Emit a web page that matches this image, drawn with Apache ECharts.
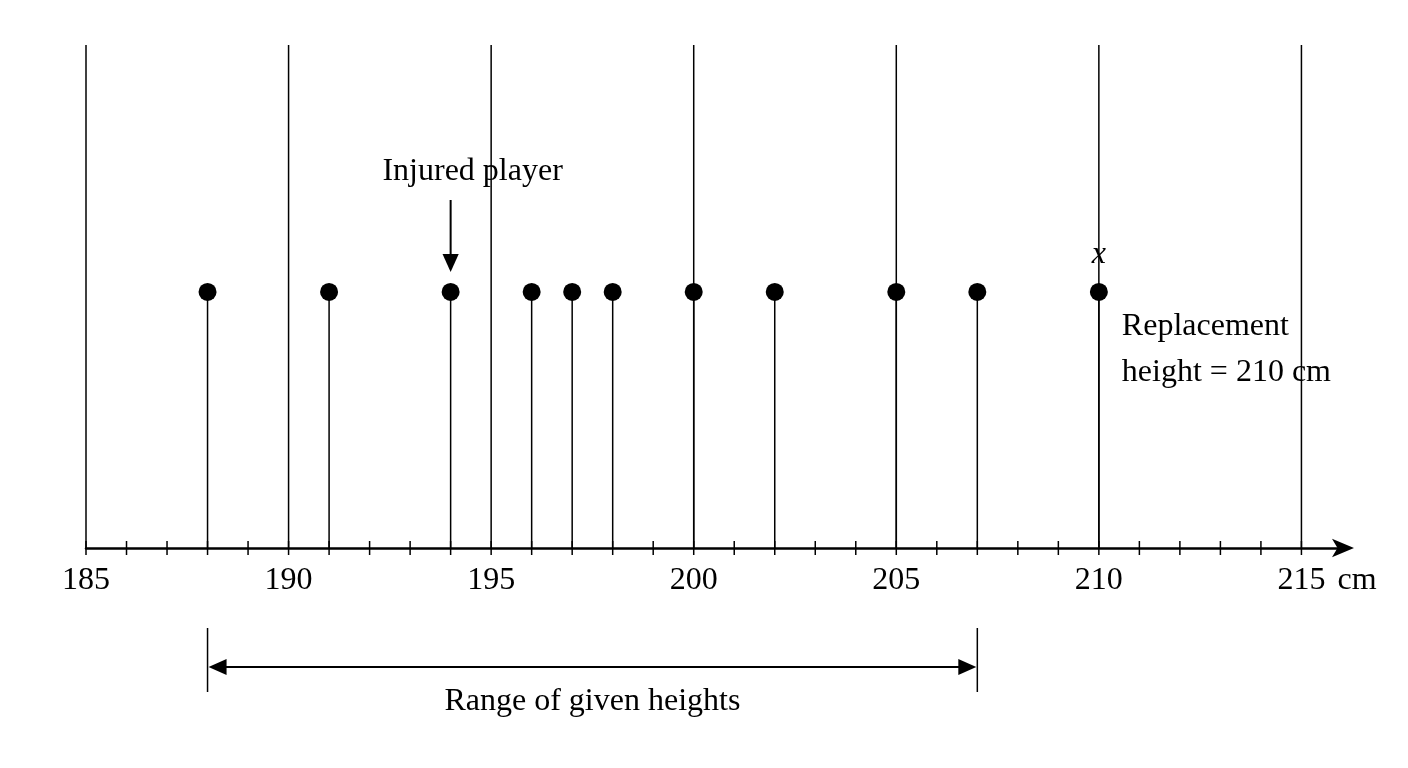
<!DOCTYPE html><html><head><meta charset="utf-8">
<script src="https://cdn.jsdelivr.net/npm/echarts@6/dist/echarts.min.js"></script>
<style>html,body{margin:0;background:#fff}#c{width:1408px;height:768px}</style></head><body><div id="c"></div>
<script>
const heights=[188,191,194,196,197,198,200,202,205,207,210];
const gridValues=[185,190,195,200,205,210,215];
const tickValues=[];for(let v=185;v<=215;v++)tickValues.push(v);
const labelValues=[185,190,195,200,205,210,215];
const dotLevel=0.509;
const injured=194, replacement=210, rangeMin=188, rangeMax=207;
const F='"Liberation Serif","DejaVu Serif",serif';
const chart=echarts.init(document.getElementById('c'));
const L={stroke:'#000',lineWidth:1.5};
function arrowHead(x,y,dx,dy,s){ // tip at x,y pointing dir
  const px=-dy,py=dx;
  return {type:'polygon',shape:{points:[[x,y],[x-dx*s+px*s*0.45,y-dy*s+py*s*0.45],[x-dx*s-px*s*0.45,y-dy*s-py*s*0.45]]},style:{fill:'#000'}};
}
chart.setOption({
 animation:false,
 grid:{left:86,right:62,top:45,bottom:220},
 xAxis:{type:'value',min:185,max:216.1,interval:1,axisLine:{show:true,lineStyle:{color:'#000',width:2.5},symbol:['none','arrow'],symbolSize:[14,22],symbolOffset:[0,8]},axisTick:{show:false},axisLabel:{show:false},splitLine:{show:false}},
 yAxis:{type:'value',min:0,max:1,show:false},
 series:[
  {type:'custom',data:gridValues.map(v=>[v]),renderItem:(p,api)=>{const a=api.coord([api.value(0),0]),b=api.coord([api.value(0),1]);return{type:'line',shape:{x1:a[0],y1:a[1],x2:b[0],y2:b[1]},style:L};}},
  {type:'custom',data:tickValues.map(v=>[v]),renderItem:(p,api)=>{const a=api.coord([api.value(0),0]);return{type:'line',shape:{x1:a[0],y1:a[1]-7,x2:a[0],y2:a[1]+7},style:L};}},
  {type:'custom',data:labelValues.map(v=>[v]),renderItem:(p,api)=>{const v=api.value(0),a=api.coord([v,0]);const els=[{type:'text',x:a[0],y:a[1]+33,style:{text:String(v),font:'32px '+F,fill:'#000',align:'center',verticalAlign:'middle'}}];
    if(v===215)els.push({type:'text',x:a[0]+28,y:a[1]+33,style:{text:' cm',font:'32px '+F,fill:'#000',align:'left',verticalAlign:'middle'}});return{type:'group',children:els};}},
  {type:'custom',data:heights.map(v=>[v,dotLevel]),renderItem:(p,api)=>{const a=api.coord([api.value(0),0]),b=api.coord([api.value(0),api.value(1)]);return{type:'group',children:[{type:'line',shape:{x1:a[0],y1:a[1],x2:b[0],y2:b[1]},style:L},{type:'circle',shape:{cx:b[0],cy:b[1],r:9},style:{fill:'#000'}}]};}},
  {type:'custom',data:[[0]],renderItem:(p,api)=>{
    const inj=api.coord([injured,dotLevel]),rep=api.coord([replacement,dotLevel]);
    const r0=api.coord([rangeMin,0]),r1=api.coord([rangeMax,0]);
    const y0=r0[1];
    const t=(txt,x,y,al,it)=>({type:'text',x,y,style:{text:txt,font:(it?'italic ':'')+'32px '+F,fill:'#000',align:al,verticalAlign:'middle'}});
    return{type:'group',children:[
      t('Injured player',inj[0]+22,inj[1]-120,'center'),
      {type:'line',shape:{x1:inj[0],y1:inj[1]-92,x2:inj[0],y2:inj[1]-35},style:{stroke:'#000',lineWidth:2}},
      arrowHead(inj[0],inj[1]-20,0,1,18),
      t('x',rep[0],rep[1]-37,'center',true),
      t('Replacement',rep[0]+23,rep[1]+35,'left'),
      t('height = 210 cm',rep[0]+23,rep[1]+81,'left'),
      {type:'line',shape:{x1:r0[0],y1:y0+80,x2:r0[0],y2:y0+144},style:L},
      {type:'line',shape:{x1:r1[0],y1:y0+80,x2:r1[0],y2:y0+144},style:L},
      {type:'line',shape:{x1:r0[0]+15,y1:y0+119,x2:r1[0]-15,y2:y0+119},style:{stroke:'#000',lineWidth:2}},
      arrowHead(r0[0]+1,y0+119,-1,0,18),arrowHead(r1[0]-1,y0+119,1,0,18),
      t('Range of given heights',(r0[0]+r1[0])/2,y0+154,'center')
    ]};
  }}
 ]
});
</script></body></html>
